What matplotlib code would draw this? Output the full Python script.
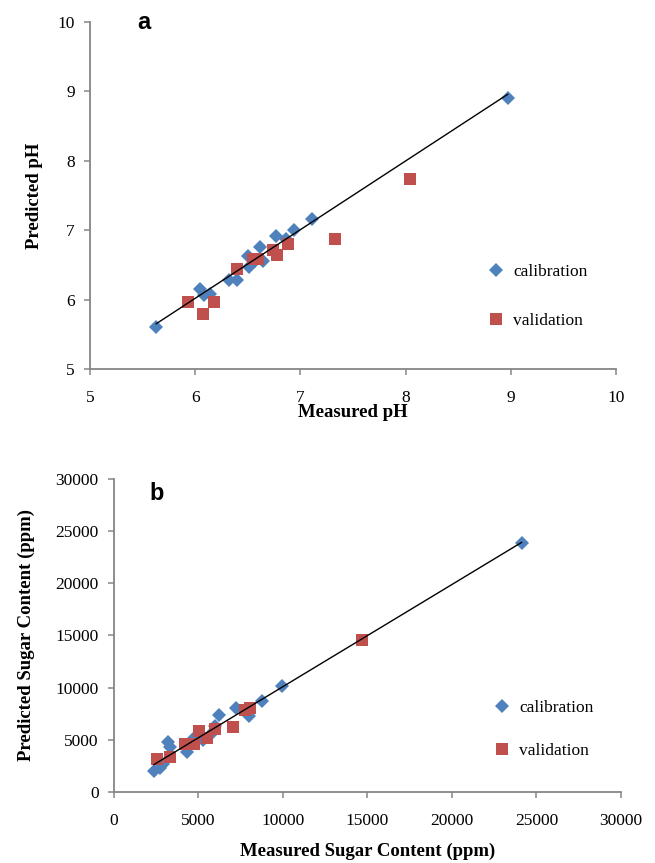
import matplotlib
matplotlib.use("Agg")
import matplotlib.pyplot as plt
import numpy as np

# panel a: pH
ph_cal_measured = [5.63, 6.05, 6.08, 6.14, 6.32, 6.40, 6.50, 6.51, 6.62, 6.64,
                   6.57, 6.77, 6.86, 6.94, 7.11, 8.97]
ph_cal_predicted = [5.61, 6.16, 6.07, 6.08, 6.28, 6.29, 6.63, 6.47, 6.76, 6.56,
                    6.55, 6.91, 6.88, 7.00, 7.16, 8.90]
ph_val_measured = [5.93, 6.07, 6.18, 6.40, 6.55, 6.60, 6.74, 6.78, 6.88, 7.33, 8.04]
ph_val_predicted = [5.96, 5.79, 5.96, 6.44, 6.58, 6.58, 6.72, 6.64, 6.80, 6.87, 7.74]

# panel b: sugar content (ppm)
sugar_cal_measured = [2370, 2720, 2920, 3215, 3310, 4340, 4690, 5280, 5880, 5980,
                      6230, 7220, 7990, 8740, 9920, 24120]
sugar_cal_predicted = [2050, 2270, 2680, 4760, 4280, 3870, 5050, 4980, 5780, 6360,
                       7380, 8080, 7310, 8750, 10190, 23840]
sugar_val_measured = [2560, 3310, 4200, 4730, 5050, 5480, 5980, 7060, 7750, 8050, 14690]
sugar_val_predicted = [3130, 3320, 4570, 4570, 5850, 5200, 6040, 6200, 7860, 8020, 14540]

BLUE = "#4F81BD"
RED = "#C0504D"
GREY = "#868686"

plt.rcParams["font.family"] = ["Liberation Serif", "DejaVu Serif"]


def style_axes(ax):
    for side in ("top", "right"):
        ax.spines[side].set_visible(False)
    for side in ("left", "bottom"):
        ax.spines[side].set_color(GREY)
        ax.spines[side].set_linewidth(1.3)
    ax.tick_params(direction="out", length=4, width=1.1, color=GREY,
                   labelsize=12.5)
    ax.tick_params(axis="x", pad=11)
    ax.tick_params(axis="y", pad=7)


def draw_panel(ax, cal_x, cal_y, val_x, val_y):
    # linear trend line through the calibration set
    slope, intercept = np.polyfit(cal_x, cal_y, 1)
    xs = np.array([min(cal_x), max(cal_x)])
    ax.plot(cal_x, cal_y, linestyle="none", marker="D", ms=7.5, color=BLUE,
            markeredgewidth=0, label="calibration", zorder=3)
    ax.plot(val_x, val_y, linestyle="none", marker="s", ms=8.5, color=RED,
            markeredgewidth=0, label="validation", zorder=3)
    ax.plot(xs, slope * xs + intercept, color="black", lw=1.0, zorder=4)


fig = plt.figure(figsize=(6.55, 8.63), dpi=100)

# ---- panel a ----
ax1 = fig.add_axes([0.1374, 0.5724, 0.803, 0.402])
draw_panel(ax1, ph_cal_measured, ph_cal_predicted, ph_val_measured, ph_val_predicted)
ax1.set_xlim(5, 10)
ax1.set_ylim(5, 10)
ax1.set_xticks(range(5, 11))
ax1.set_yticks(range(5, 11))
style_axes(ax1)
ax1.set_xlabel("Measured pH", fontsize=13.5, fontweight="bold", labelpad=-1)
ax1.set_ylabel("Predicted pH", fontsize=13.5, fontweight="bold", labelpad=10)
ax1.text(0.09, 1.0, "a", transform=ax1.transAxes, fontsize=17,
         fontweight="bold", family="Liberation Sans", va="center")
ax1.legend(loc="center left", bbox_to_anchor=(0.722, 0.21), frameon=False,
           fontsize=12.5, labelspacing=1.9, handletextpad=0.4, handlelength=1.2)

# ---- panel b ----
ax2 = fig.add_axes([0.174, 0.0823, 0.774, 0.3627])
draw_panel(ax2, sugar_cal_measured, sugar_cal_predicted,
           sugar_val_measured, sugar_val_predicted)
ax2.set_xlim(0, 30000)
ax2.set_ylim(0, 30000)
ax2.set_xticks(range(0, 30001, 5000))
ax2.set_yticks(range(0, 30001, 5000))
style_axes(ax2)
ax2.set_xlabel("Measured Sugar Content (ppm)", fontsize=13.5, fontweight="bold",
               labelpad=10)
ax2.set_ylabel("Predicted Sugar Content (ppm)", fontsize=13.5, fontweight="bold",
               labelpad=15)
ax2.text(0.07, 0.955, "b", transform=ax2.transAxes, fontsize=17,
         fontweight="bold", family="Liberation Sans", va="center")
ax2.legend(loc="center left", bbox_to_anchor=(0.714, 0.20), frameon=False,
           fontsize=12.5, labelspacing=1.55, handletextpad=0.4, handlelength=1.2)

fig.savefig("out.png", dpi=100)
